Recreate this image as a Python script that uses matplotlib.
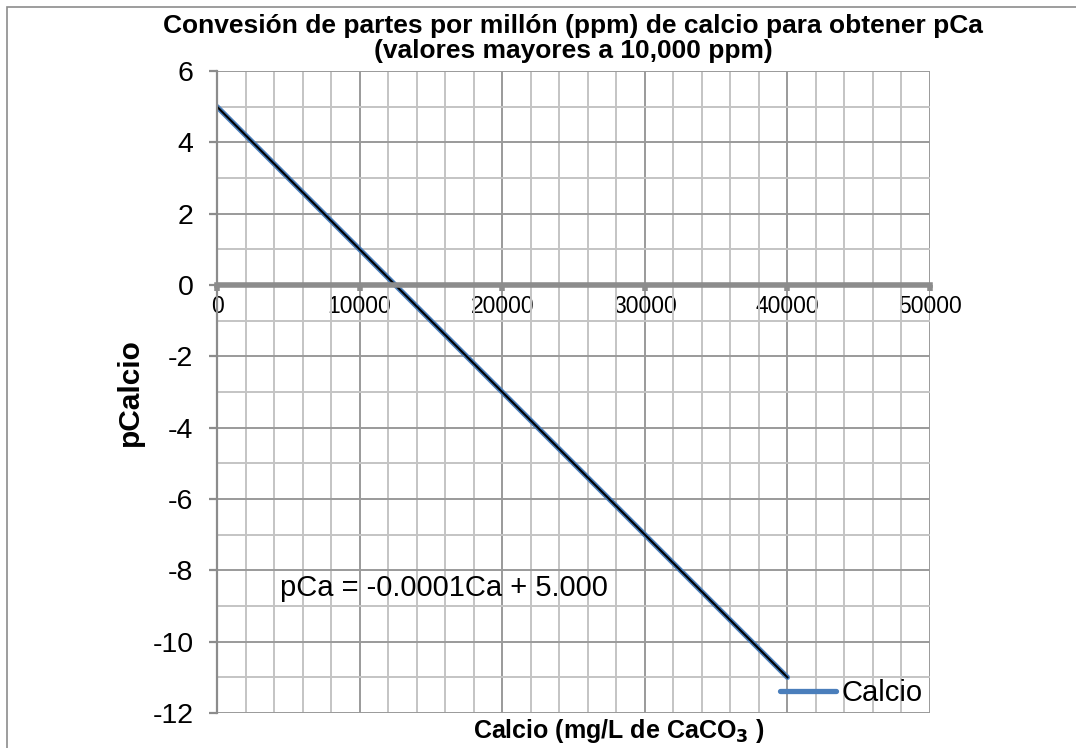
import matplotlib
matplotlib.use("Agg")
import matplotlib.pyplot as plt
import matplotlib.patches as patches
from matplotlib.ticker import MultipleLocator
import numpy as np

plt.rcParams['font.family'] = ['Liberation Sans', 'DejaVu Sans']
plt.rcParams['axes.unicode_minus'] = False

# data
calcio = [0, 10000, 20000, 30000, 40000]
pcalcio = [5, 1, -3, -7, -11]
eq_text = "pCa = -0.0001Ca + 5.000"
title_text = "Convesión de partes por millón (ppm) de calcio para obtener pCa\n(valores mayores a 10,000 ppm)"

W, H = 1076, 748
fig = plt.figure(figsize=(W / 100, H / 100), dpi=100)
ax = fig.add_axes([217 / W, 1 - 713 / H, (930 - 217) / W, (713 - 71) / H])

# outer chart frame (only top/left visible in the reference)
fig.patches.append(patches.Rectangle((7 / W, -0.5), 2.0, 1.5 - 7 / H,
                                     transform=fig.transFigure, fill=False,
                                     edgecolor='#8c8c8c', lw=1.2))

ax.set_xlim(0, 50000)
ax.set_ylim(-12, 6)
ax.xaxis.set_major_locator(MultipleLocator(10000))
ax.xaxis.set_minor_locator(MultipleLocator(2000))
ax.yaxis.set_major_locator(MultipleLocator(2))
ax.yaxis.set_minor_locator(MultipleLocator(1))

ax.grid(True, which='major', color='#9a9a9a', lw=1.4)
ax.grid(True, which='minor', color='#c4c4c4', lw=1.4)
ax.set_axisbelow(True)

for s in ['top', 'right']:
    ax.spines[s].set_visible(False)
ax.spines['bottom'].set_position(('data', 0))
ax.spines['bottom'].set_color('#8c8c8c')
ax.spines['bottom'].set_linewidth(4)
ax.spines['left'].set_color('#8c8c8c')
ax.spines['left'].set_linewidth(1.6)

ax.tick_params(axis='x', which='major', direction='out', length=4, width=4,
               color='#8c8c8c', labelsize=16.5, pad=3)
ax.tick_params(axis='y', which='major', direction='out', length=6, width=1.6,
               color='#8c8c8c', labelsize=20.5, pad=11)
ax.tick_params(which='minor', length=0)

ax.plot(calcio, pcalcio, color='#4a7ebb', lw=3.8, label='Calcio',
        solid_capstyle='round')
coef = np.polyfit(calcio, pcalcio, 1)
xs = np.array([calcio[0], calcio[-1]])
ax.plot(xs, np.polyval(coef, xs), color='black', lw=1.5)

ax.text(4400, -8.5, eq_text, fontsize=21, va='center', ha='left')

leg = ax.legend(loc='lower right', frameon=False, fontsize=21,
                bbox_to_anchor=(1.01, -0.014), handlelength=1.9,
                handletextpad=0.2, borderaxespad=0.1)

fig.text(573 / W, 1 - 14 / H, title_text, ha='center', va='top',
         fontsize=19, fontweight='bold', linespacing=1.05)
fig.text(130 / W, 1 - 392 / H, "pCalcio", rotation=90, ha='center',
         va='center', fontsize=21.5, fontweight='bold')
fig.text(619 / W, 1 - 731 / H, r"Calcio (mg/L de CaCO$_\mathbf{3}$ )",
         ha='center', va='center', fontsize=18, fontweight='bold')

fig.savefig("out.png", dpi=100)
